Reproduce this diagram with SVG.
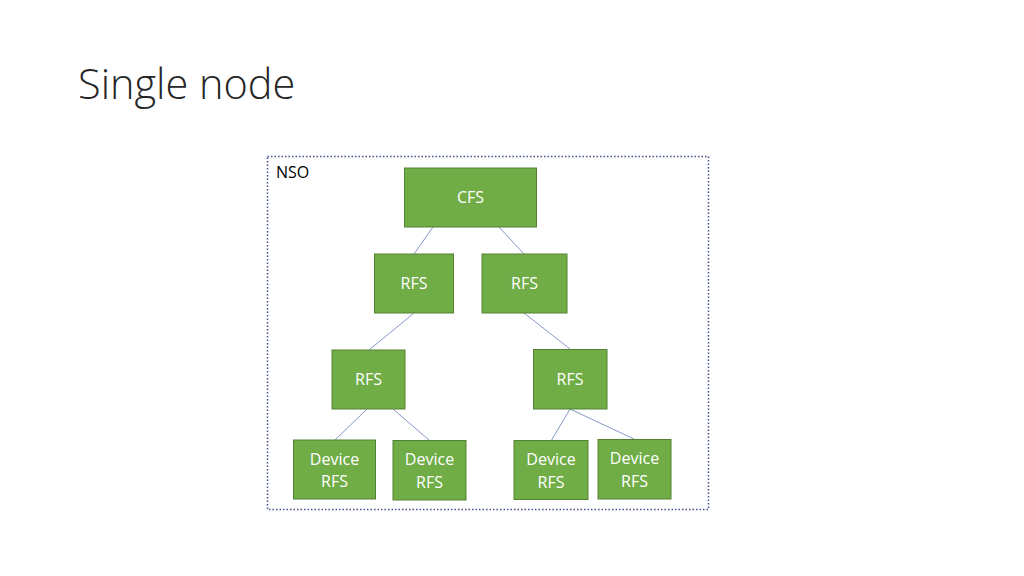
<svg xmlns="http://www.w3.org/2000/svg" width="1024" height="576" viewBox="0 0 1024 576">
<style>
.box{fill:#70ad47;stroke:#548235;stroke-width:1}
.lbl{fill:#ffffff;font-family:"Open Sans","Liberation Sans",sans-serif;font-size:16px;text-anchor:middle}
.conn line{stroke:#8497c8;stroke-width:1}
</style>
<rect width="1024" height="576" fill="#ffffff"/>
<text x="78" y="99" font-family="Open Sans, Liberation Sans, sans-serif" font-weight="300" font-size="41.5" fill="#262626">Single node</text>
<g id="nso">
<rect x="267.5" y="156.5" width="441" height="353" fill="none" stroke="#44508f" stroke-width="1.5" stroke-dasharray="1.5 2"/>
<text x="276" y="178" font-family="Open Sans, Liberation Sans, sans-serif" font-size="16" fill="#000000">NSO</text>
</g>
<g class="conn" id="connectors">
<line x1="433" y1="227" x2="414" y2="254"/>
<line x1="499" y1="227" x2="524" y2="254"/>
<line x1="414" y1="313" x2="369" y2="350"/>
<line x1="524" y1="313" x2="570" y2="349"/>
<line x1="367" y1="409" x2="335" y2="440"/>
<line x1="393" y1="409" x2="429" y2="440"/>
<line x1="570" y1="409" x2="551" y2="441"/>
<line x1="570" y1="409" x2="634" y2="439"/>
</g>
<g id="cfs"><rect class="box" x="404.5" y="168" width="132" height="59"/><text class="lbl" x="470.5" y="203">CFS</text></g>
<g id="rfs1"><rect class="box" x="374.5" y="254" width="79" height="59"/><text class="lbl" x="414" y="289">RFS</text></g>
<g id="rfs2"><rect class="box" x="482" y="254" width="85" height="59"/><text class="lbl" x="524.5" y="289">RFS</text></g>
<g id="rfs3"><rect class="box" x="332" y="350" width="73" height="59"/><text class="lbl" x="368.5" y="385">RFS</text></g>
<g id="rfs4"><rect class="box" x="533.5" y="349.5" width="73.5" height="59.5"/><text class="lbl" x="570" y="385">RFS</text></g>
<g id="dev1"><rect class="box" x="293.5" y="440" width="82" height="59"/><text class="lbl" x="334.5" y="465">Device</text><text class="lbl" x="334.5" y="487">RFS</text></g>
<g id="dev2"><rect class="box" x="393" y="440.5" width="73" height="59.5"/><text class="lbl" x="429.5" y="465">Device</text><text class="lbl" x="429.5" y="488">RFS</text></g>
<g id="dev3"><rect class="box" x="514" y="440.5" width="74" height="59"/><text class="lbl" x="551" y="465">Device</text><text class="lbl" x="551" y="488">RFS</text></g>
<g id="dev4"><rect class="box" x="598" y="439.5" width="73" height="59.5"/><text class="lbl" x="634.5" y="464">Device</text><text class="lbl" x="634.5" y="487">RFS</text></g>
</svg>
